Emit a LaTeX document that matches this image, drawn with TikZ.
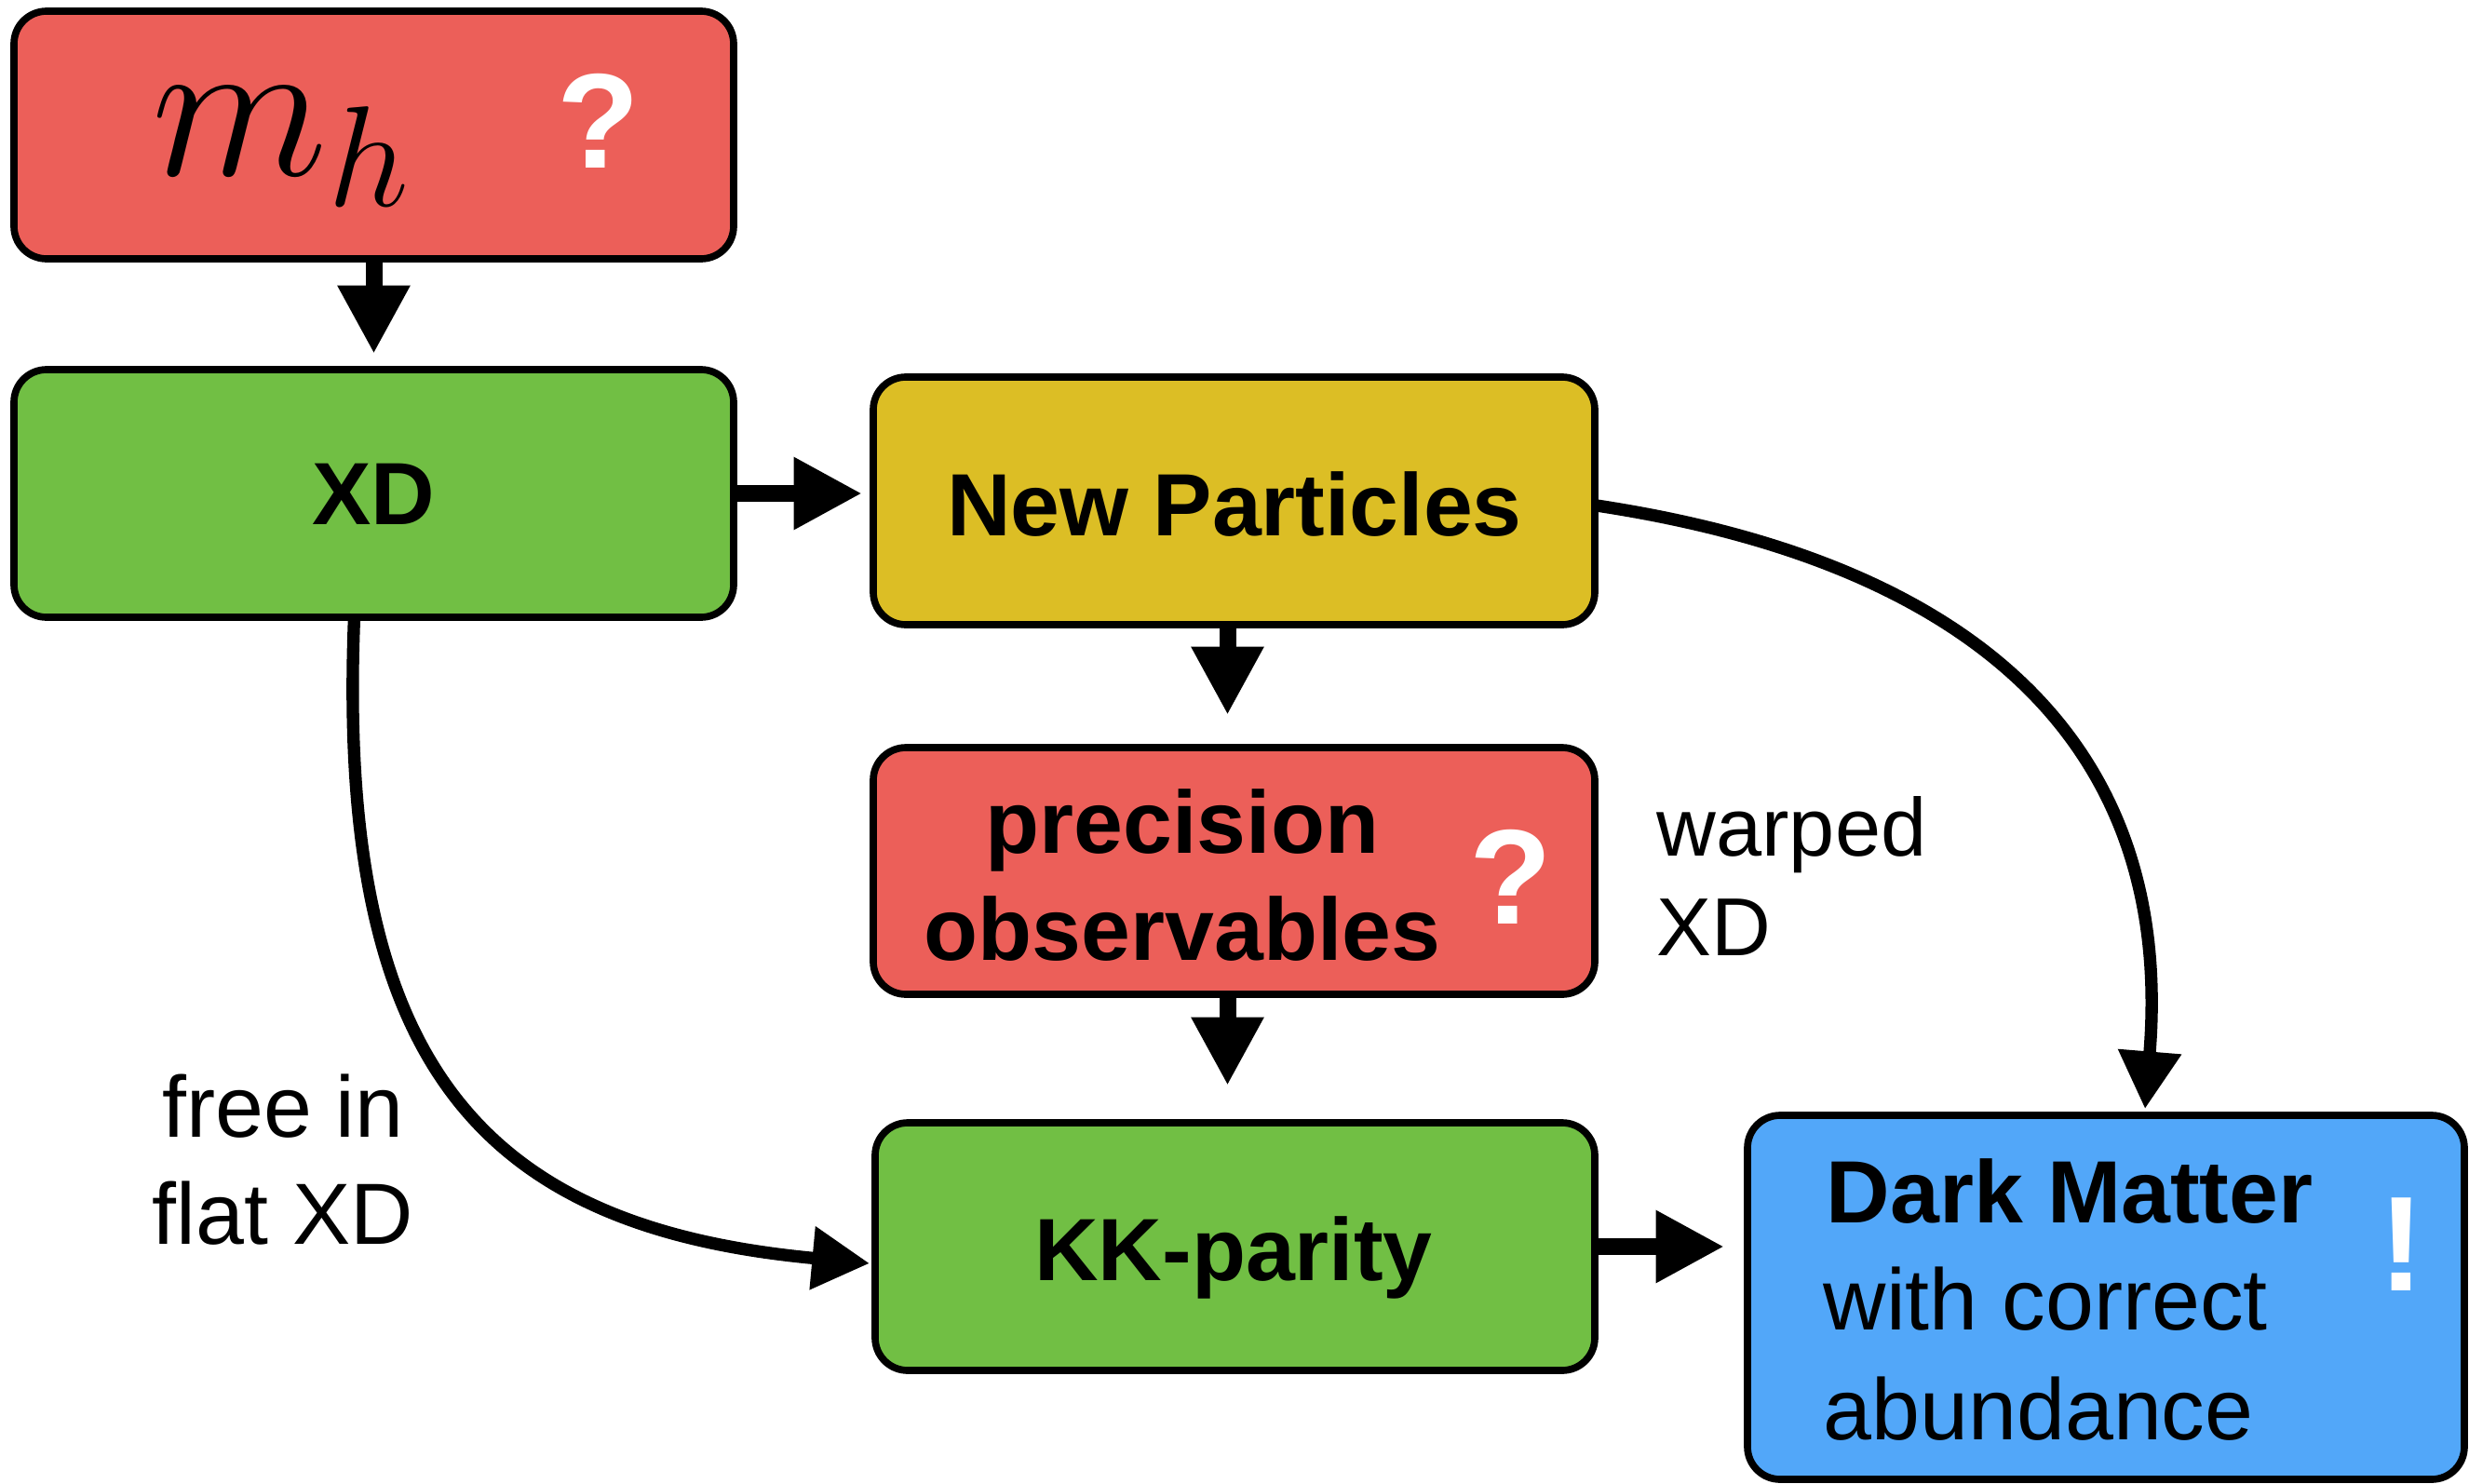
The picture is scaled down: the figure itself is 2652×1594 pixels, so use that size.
\RequirePackage{fix-cm}
\documentclass[tikz,border=0pt]{standalone}
\usepackage{fontspec}
\setmainfont{Liberation Sans}
\usetikzlibrary{arrows.meta,calc}
\definecolor{boxred}{HTML}{EC5F59}
\definecolor{boxgreen}{HTML}{71BF44}
\definecolor{boxyellow}{HTML}{DCBE25}
\definecolor{boxblue}{HTML}{52A7F9}
\begin{document}
\begin{tikzpicture}[x=0.3pt,y=-0.3pt,
  box/.style={draw=black,line width=2.3pt,rounded corners=10.5pt,inner sep=0pt,outer sep=0pt},
  boldtxt/.style={font=\bfseries\fontsize{28.5}{34}\selectfont,inner sep=0pt,anchor=base},
  lighttxt/.style={font=\fontsize{28}{34}\selectfont,inner sep=0pt},
  qmark/.style={text=white,font=\bfseries\fontsize{43.5}{50}\selectfont,inner sep=0pt,anchor=base},
  straight/.style={line width=5.4pt,-{Triangle[width=21.9pt,length=22pt]}},
  curved/.style={line width=4pt,-{Triangle[width=19.5pt,length=18.5pt]}}
]
\useasboundingbox (0,0) rectangle (2652,1594);

% boxes
\node[box,fill=boxred,minimum width=231.9pt,minimum height=79.8pt] (mh) at (401.5,145) {};
\node[box,fill=boxgreen,minimum width=231.9pt,minimum height=79.8pt] (XD) at (401.5,530) {};
\node[box,fill=boxyellow,minimum width=232.5pt,minimum height=79.8pt] (NP) at (1325.5,538) {};
\node[box,fill=boxred,minimum width=232.5pt,minimum height=79.5pt] (prec) at (1325.5,935.5) {};
\node[box,fill=boxgreen,minimum width=231.9pt,minimum height=79.8pt] (KK) at (1326.5,1339) {};
\node[box,fill=boxblue,minimum width=231pt,minimum height=117.3pt] (DM) at (2262,1393.5) {};

% texts
\node[anchor=base west,inner sep=0pt,font=\fontsize{66}{72}\selectfont] (mhlabel) at (163,188) {$m_h$};
\node[qmark] (q1) at (643,180) {?};
\node[boldtxt] (xdlabel) at (401.5,563) {XD};
\node[boldtxt] (nplabel) at (1326,575) {New Particles};
\node[boldtxt] (prec1) at (1270,916) {precision};
\node[boldtxt] (prec2) at (1270,1031) {observables};
\node[qmark] (q2) at (1623,992) {?};
\node[boldtxt] (kklabel) at (1325,1375) {KK-parity};
\node[boldtxt,anchor=base west] (dm1) at (1961,1313) {Dark Matter};
\node[lighttxt,anchor=base west] (dm2) at (1958,1428) {with correct};
\node[lighttxt,anchor=base west] (dm3) at (1958,1546) {abundance};
\node[qmark] (excl) at (2580,1386) {!};
\node[lighttxt,anchor=base west,font=\fontsize{26.5}{30}\selectfont] (warp1) at (1779,919) {warped};
\node[lighttxt,anchor=base west,font=\fontsize{26.5}{30}\selectfont] (warp2) at (1779,1026) {XD};
\node[lighttxt,anchor=base] (free1) at (304,1221) {free in};
\node[lighttxt,anchor=base] (free2) at (304,1336) {flat XD};

% connectors
\draw[straight,shorten >=5.1pt] (mh.south) -- (XD.north);
\draw[straight,shorten >=3.6pt] (XD.east) -- (XD.east -| NP.west);
\draw[straight,shorten >=10.5pt] ($(NP.south)+(-7,0)$) -- ($(prec.north)+(-7,0)$);
\draw[straight,shorten >=12pt] ($(prec.south)+(-7,0)$) -- ($(KK.north)+(-8,0)$);
\draw[straight,shorten >=7.5pt] (KK.east) -- (KK.east -| DM.west);
\draw[curved] ($(XD.south)+(-21,0)$) .. controls (361,1143) and (516,1318) .. ($(KK.west)+(-6,18)$);
\draw[curved] ($(NP.east)+(2,5)$) .. controls (2111,603) and (2337,792) .. ($(DM.north)+(42,-7)$);
\end{tikzpicture}
\end{document}
